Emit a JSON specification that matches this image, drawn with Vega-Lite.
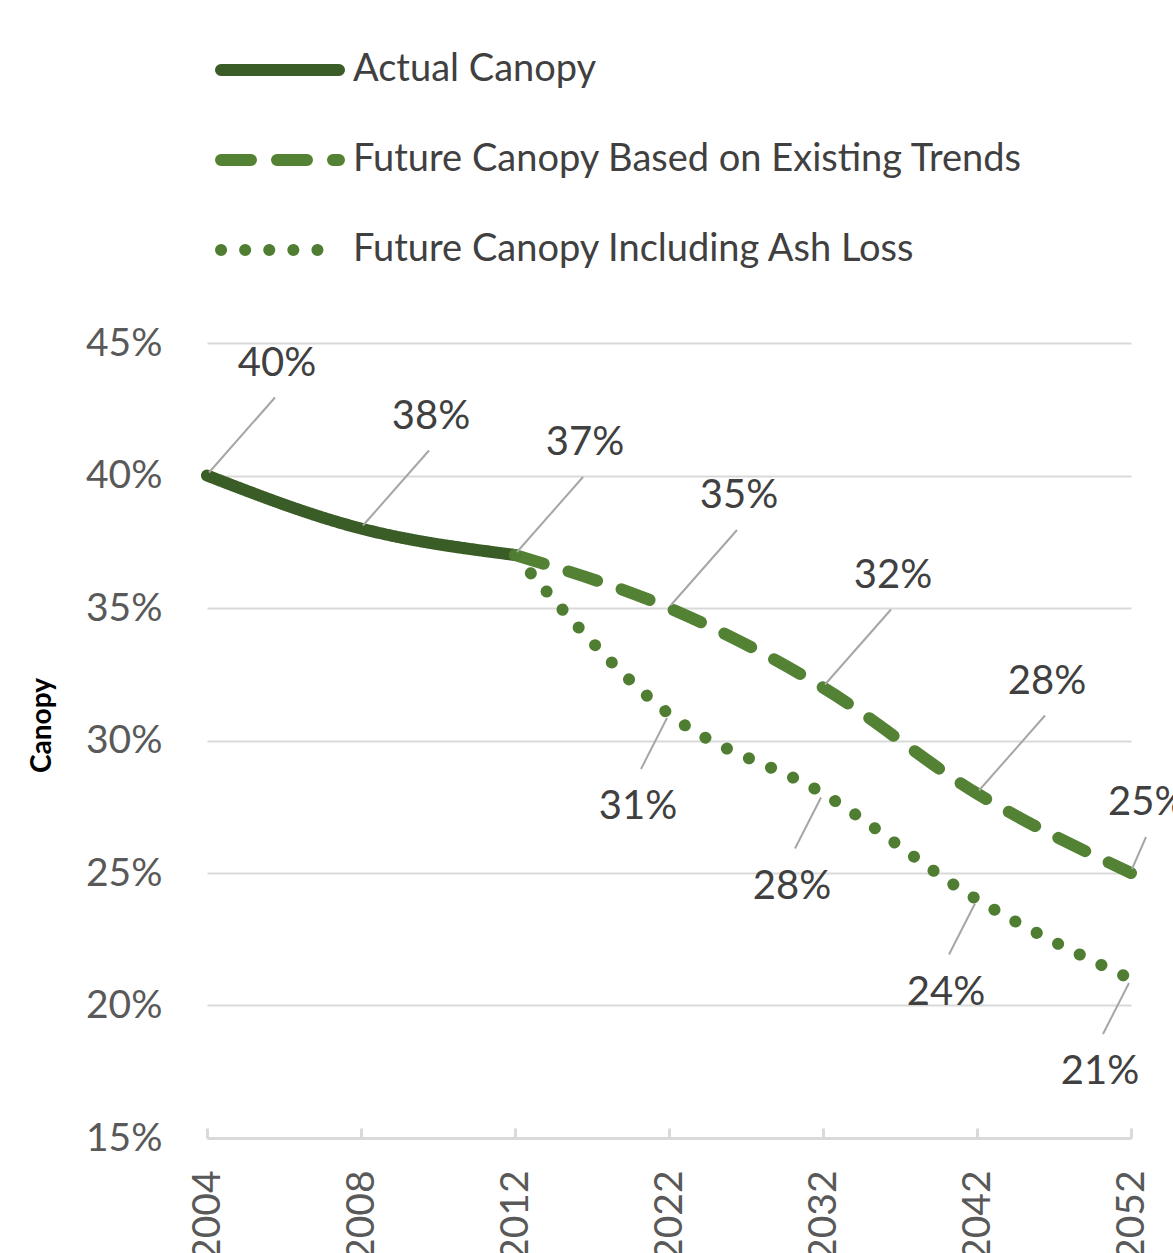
{
  "$schema": "https://vega.github.io/schema/vega-lite/v6.json",
  "width": 924,
  "height": 795,
  "autosize": {"type": "none"},
  "padding": {"left": 207, "top": 343, "right": 42, "bottom": 115},
  "background": "white",
  "config": {"view": {"stroke": null}, "font": "Lato"},
  "data": {
    "values": [
      {"series": "Actual Canopy", "year": "2004", "value": 0.40},
      {"series": "Actual Canopy", "year": "2008", "value": 0.38},
      {"series": "Actual Canopy", "year": "2012", "value": 0.37},
      {"series": "Future Canopy Based on Existing Trends", "year": "2012", "value": 0.37},
      {"series": "Future Canopy Based on Existing Trends", "year": "2022", "value": 0.35},
      {"series": "Future Canopy Based on Existing Trends", "year": "2032", "value": 0.32},
      {"series": "Future Canopy Based on Existing Trends", "year": "2042", "value": 0.28},
      {"series": "Future Canopy Based on Existing Trends", "year": "2052", "value": 0.25},
      {"series": "Future Canopy Including Ash Loss", "year": "2012", "value": 0.37},
      {"series": "Future Canopy Including Ash Loss", "year": "2022", "value": 0.31},
      {"series": "Future Canopy Including Ash Loss", "year": "2032", "value": 0.28},
      {"series": "Future Canopy Including Ash Loss", "year": "2042", "value": 0.24},
      {"series": "Future Canopy Including Ash Loss", "year": "2052", "value": 0.21}
    ]
  },
  "encoding": {
    "x": {
      "field": "year", "type": "ordinal",
      "scale": {"type": "point", "padding": 0},
      "axis": {
        "title": null, "labelAngle": 270, "labelFontSize": 39, "labelColor": "#595959", "labelFont": "Lato",
        "domainColor": "#d9d9d9", "domainWidth": 3, "tickColor": "#d9d9d9", "tickWidth": 3,
        "tickSize": -10, "labelPadding": 42, "grid": false
      }
    },
    "y": {
      "field": "value", "type": "quantitative",
      "scale": {"domain": [0.15, 0.45]},
      "axis": {
        "title": "Canopy", "format": ".0%", "values": [0.15, 0.2, 0.25, 0.3, 0.35, 0.4, 0.45],
        "grid": true, "gridColor": "#d9d9d9", "gridWidth": 2, "domain": false, "ticks": false,
        "labelPadding": 45, "labelFontSize": 39, "labelColor": "#595959", "labelFont": "Lato",
        "titleFontSize": 28, "titleFontWeight": "bold", "titleColor": "#000000", "titleFont": "Lato",
        "titleX": -165, "titleY": 382, "titleAngle": 270, "titleBaseline": "middle", "titleAlign": "center"
      }
    }
  },
  "layer": [
    {
      "mark": {"type": "line", "interpolate": "monotone", "strokeWidth": 12, "strokeCap": "round"},
      "encoding": {
        "color": {
          "field": "series", "type": "nominal",
          "scale": {
            "domain": ["Actual Canopy", "Future Canopy Based on Existing Trends", "Future Canopy Including Ash Loss"],
            "range": ["#3a5c26", "#548235", "#4f7d31"]
          },
          "legend": {
            "orient": "none", "legendX": 8, "legendY": -293, "title": null, "symbolType": "stroke",
            "symbolSize": 13924, "symbolStrokeWidth": 12, "clipHeight": 40, "rowPadding": 50,
            "labelOffset": 8, "labelFontSize": 38, "labelColor": "#404040", "labelFont": "Lato", "labelLimit": 1000, "padding": 0,
            "encode": {"symbols": {"update": {"strokeCap": {"value": "round"}}}}
          }
        },
        "strokeDash": {
          "field": "series", "type": "nominal",
          "scale": {
            "domain": ["Actual Canopy", "Future Canopy Based on Existing Trends", "Future Canopy Including Ash Loss"],
            "range": [[1, 0], [30, 26], [0.1, 24]]
          },
          "legend": {
            "orient": "none", "legendX": 8, "legendY": -293, "title": null, "symbolType": "stroke",
            "symbolSize": 13924, "symbolStrokeWidth": 12, "clipHeight": 40, "rowPadding": 50,
            "labelOffset": 8, "labelFontSize": 38, "labelColor": "#404040", "labelFont": "Lato", "labelLimit": 1000, "padding": 0,
            "encode": {"symbols": {"update": {"strokeCap": {"value": "round"}}}}
          }
        }
      }
    },
    {
      "transform": [{"filter": "datum.series == 'Actual Canopy' || (datum.series == 'Future Canopy Based on Existing Trends' && datum.year != '2012' && datum.year != '2052')"}],
      "mark": {"type": "rule", "color": "#a6a6a6", "strokeWidth": 2, "xOffset": 2, "yOffset": -3, "x2Offset": 68, "y2Offset": -78},
      "encoding": {"x2": {"field": "year"}, "y2": {"field": "value"}}
    },
    {
      "transform": [{"filter": "datum.series == 'Future Canopy Based on Existing Trends' && datum.year == '2052'"}],
      "mark": {"type": "rule", "color": "#a6a6a6", "strokeWidth": 2, "xOffset": 1, "yOffset": -4, "x2Offset": 15, "y2Offset": -36},
      "encoding": {"x2": {"field": "year"}, "y2": {"field": "value"}}
    },
    {
      "transform": [{"filter": "datum.series == 'Future Canopy Including Ash Loss' && datum.year != '2012'"}],
      "mark": {"type": "rule", "color": "#a6a6a6", "strokeWidth": 2, "xOffset": -2, "yOffset": 4, "x2Offset": -28, "y2Offset": 55},
      "encoding": {"x2": {"field": "year"}, "y2": {"field": "value"}}
    },
    {
      "transform": [{"filter": "datum.series == 'Actual Canopy' || (datum.series == 'Future Canopy Based on Existing Trends' && datum.year != '2012' && datum.year != '2052')"}],
      "mark": {"type": "text", "dx": 70, "dy": -112, "fontSize": 40, "color": "#404040", "font": "Lato", "align": "center", "baseline": "middle"},
      "encoding": {"text": {"field": "value", "format": ".0%"}}
    },
    {
      "transform": [{"filter": "datum.series == 'Future Canopy Based on Existing Trends' && datum.year == '2052'"}],
      "mark": {"type": "text", "dx": -23, "dy": -70, "fontSize": 40, "color": "#404040", "font": "Lato", "align": "left", "baseline": "middle"},
      "encoding": {"text": {"field": "value", "format": ".0%"}}
    },
    {
      "transform": [{"filter": "datum.series == 'Future Canopy Including Ash Loss' && datum.year != '2012'"}],
      "mark": {"type": "text", "dx": -31, "dy": 93, "fontSize": 40, "color": "#404040", "font": "Lato", "align": "center", "baseline": "middle"},
      "encoding": {"text": {"field": "value", "format": ".0%"}}
    }
  ]
}
